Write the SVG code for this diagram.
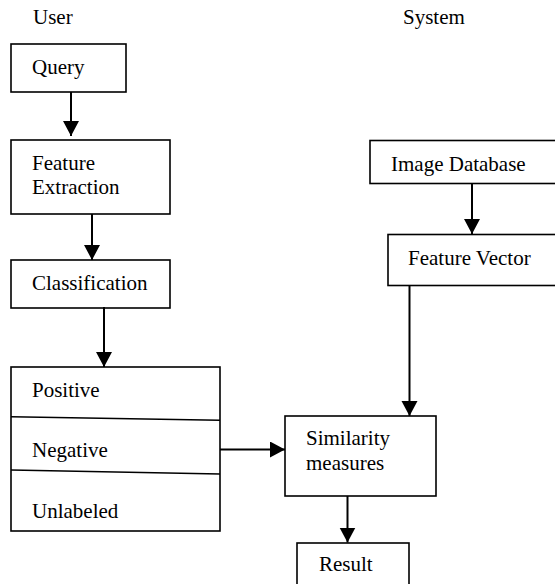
<svg xmlns="http://www.w3.org/2000/svg" width="555" height="584" viewBox="0 0 555 584">
<style>
.box{fill:#fff;stroke:#000;stroke-width:1.6}
text{font-family:'Liberation Serif','Times New Roman',Times,'DejaVu Serif',serif;font-size:21px;fill:#000}
.c{fill:none;stroke:#000;stroke-width:2}
.div{fill:none;stroke:#000;stroke-width:1.6}
</style>
<defs>
<marker id="ah" markerUnits="userSpaceOnUse" markerWidth="18" markerHeight="18" refX="15" refY="8" orient="auto">
<polygon points="0,0 15,8 0,16" fill="#000"/>
</marker>
<clipPath id="dbclip"><rect x="370" y="140" width="185" height="36"/></clipPath>
</defs>
<rect width="555" height="584" fill="#fff"/>
<text x="33" y="24">User</text>
<text x="403" y="24">System</text>
<g id="query"><rect class="box" x="11" y="44" width="115" height="48"/><text x="32" y="74">Query</text></g>
<g id="feature-extraction"><rect class="box" x="11" y="140" width="159" height="74"/><text x="32" y="170">Feature</text><text x="32" y="194">Extraction</text></g>
<g id="classification"><rect class="box" x="11" y="260" width="159" height="48"/><text x="32" y="290">Classification</text></g>
<g id="labels"><rect class="box" x="11" y="367" width="209" height="164"/><path class="div" d="M11 416.7 L220 420.3 M11 470 L220 474"/><text x="32" y="397">Positive</text><text x="32" y="457">Negative</text><text x="32" y="518">Unlabeled</text></g>
<g id="image-database"><rect class="box" x="370" y="140.5" width="190" height="43"/><text x="391" y="171" clip-path="url(#dbclip)">Image Database</text></g>
<g id="feature-vector"><rect class="box" x="388" y="234.5" width="172" height="51"/><text x="408" y="265">Feature Vector</text></g>
<g id="similarity"><rect class="box" x="285" y="416" width="151" height="80"/><text x="306" y="445">Similarity</text><text x="306" y="470">measures</text></g>
<g id="result"><rect class="box" x="297" y="543" width="112" height="50"/><text x="319" y="571">Result</text></g>
<g id="connectors">
<line class="c" x1="71" y1="92" x2="71" y2="136" marker-end="url(#ah)"/>
<line class="c" x1="92" y1="214" x2="92" y2="260" marker-end="url(#ah)"/>
<line class="c" x1="104" y1="307" x2="104" y2="367" marker-end="url(#ah)"/>
<line class="c" x1="220" y1="449.5" x2="285" y2="449.5" marker-end="url(#ah)"/>
<line class="c" x1="472" y1="183" x2="472" y2="234" marker-end="url(#ah)"/>
<line class="c" x1="409.5" y1="286" x2="409.5" y2="416" marker-end="url(#ah)"/>
<line class="c" x1="347.5" y1="496" x2="347.5" y2="542.5" marker-end="url(#ah)"/>
</g>
</svg>
